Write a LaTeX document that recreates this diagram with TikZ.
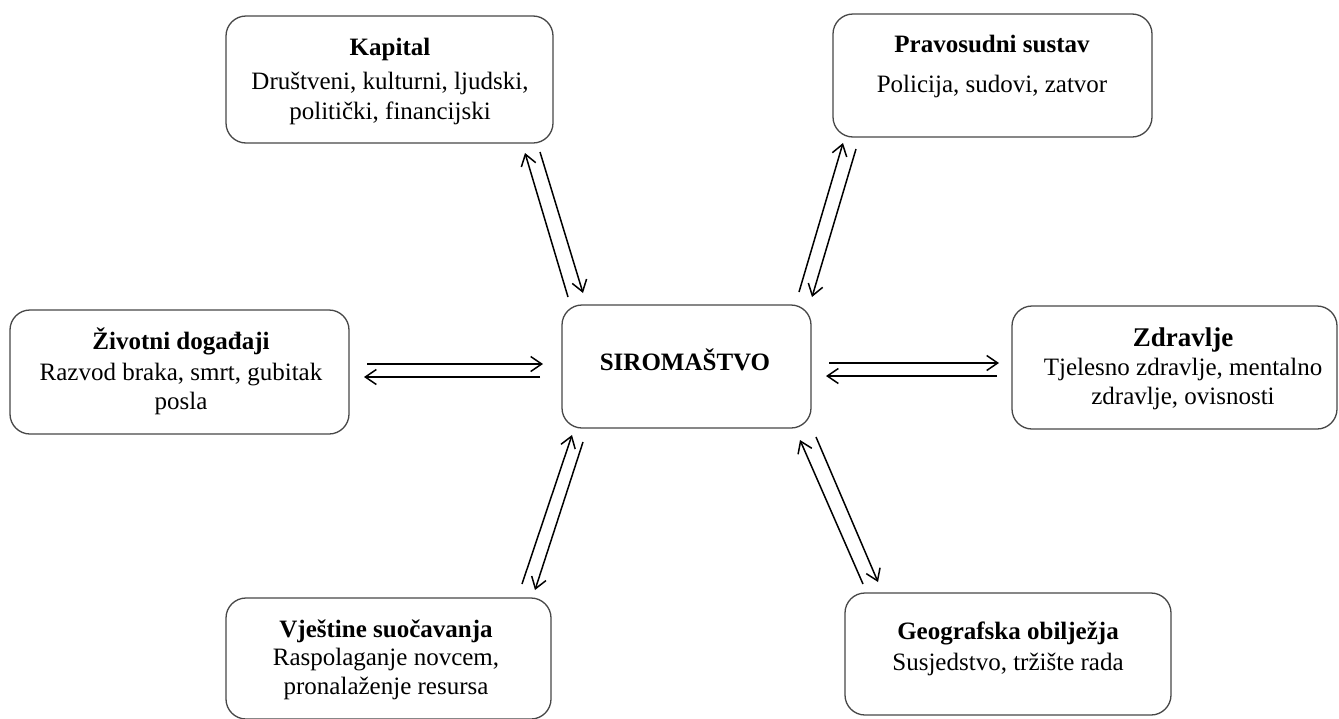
\documentclass[tikz,border=0pt]{standalone}
\usepackage{fontspec}
\setmainfont{Liberation Serif}
\usetikzlibrary{arrows.meta}
\begin{document}
\begin{tikzpicture}[x=1pt,y=-1pt,
  box/.style={draw=black!72, line width=1.3pt, rounded corners=20pt, inner sep=0pt},
  lbl/.style={anchor=base, inner sep=0pt, font=\fontsize{25}{30}\selectfont},
  ttl/.style={anchor=base, inner sep=0pt, font=\fontsize{25}{30}\selectfont\bfseries},
  bigttl/.style={anchor=base, inner sep=0pt, font=\fontsize{27}{32}\selectfont\bfseries},
  conn/.style={line width=1.5pt, -{Straight Barb[length=11pt,width=15pt]}}]
\useasboundingbox (0,0) rectangle (1339,718);
\fill[white] (0,0) rectangle (1339,718);

% boxes
\node[box, minimum width=327pt, minimum height=127pt] (kap) at (389.5,79.5) {};
\node[box, minimum width=319pt, minimum height=123pt] (prav) at (992.5,75.5) {};
\node[box, minimum width=339pt, minimum height=124pt] (ziv) at (179.5,372) {};
\node[box, minimum width=249pt, minimum height=123pt] (sir) at (686.5,366.5) {};
\node[box, minimum width=325pt, minimum height=123pt] (zdr) at (1174.5,367.5) {};
\node[box, minimum width=325pt, minimum height=121pt] (vje) at (388.5,658.5) {};
\node[box, minimum width=326pt, minimum height=122pt] (geo) at (1008,654) {};

% texts
\node[ttl] (kapT) at (390,55) {Kapital};
\node[lbl] (kap1) at (390,89) {Društveni, kulturni, ljudski,};
\node[lbl] (kap2) at (390,119) {politički, financijski};

\node[ttl] (pravT) at (992,52) {Pravosudni sustav};
\node[lbl] (prav1) at (992,92) {Policija, sudovi, zatvor};

\node[ttl] (zivT) at (181,349) {Životni događaji};
\node[lbl] (ziv1) at (181,380) {Razvod braka, smrt, gubitak};
\node[lbl] (ziv2) at (181,409) {posla};

\node[ttl] (sirT) at (685,370) {SIROMAŠTVO};

\node[bigttl] (zdrT) at (1183,346) {Zdravlje};
\node[lbl] (zdr1) at (1183,375) {Tjelesno zdravlje, mentalno};
\node[lbl] (zdr2) at (1183,404) {zdravlje, ovisnosti};

\node[ttl] (vjeT) at (386,637) {Vještine suočavanja};
\node[lbl] (vje1) at (386,665) {Raspolaganje novcem,};
\node[lbl] (vje2) at (386,694) {pronalaženje resursa};

\node[ttl] (geoT) at (1008,639) {Geografska obilježja};
\node[lbl] (geo1) at (1008,670) {Susjedstvo, tržište rada};

% connector end points
\coordinate (sirKa) at (568,297);  \coordinate (kapS) at (525,153);
\coordinate (kapSb) at (540,152);  \coordinate (sirKb) at (583,293);
\coordinate (sirPa) at (799,292);  \coordinate (pravS) at (843,143);
\coordinate (pravSb) at (856,149); \coordinate (sirPb) at (812,297);
\coordinate (vjeS) at (522,584);   \coordinate (sirVa) at (572,435);
\coordinate (sirVb) at (583,442);  \coordinate (vjeSb) at (535,590);
\coordinate (geoS) at (863,584);   \coordinate (sirGa) at (800,440);
\coordinate (sirGb) at (816,437);  \coordinate (geoSb) at (878,582);
\coordinate (zivS) at (367,364);   \coordinate (sirZa) at (543,364);
\coordinate (sirZb) at (540,377);  \coordinate (zivSb) at (364,377);
\coordinate (sirDa) at (829,363);  \coordinate (zdrS) at (999,363);
\coordinate (zdrSb) at (997,376);  \coordinate (sirDb) at (826,376);

% connectors
\draw[conn] (sirKa) -- (kapS);
\draw[conn] (kapSb) -- (sirKb);
\draw[conn] (sirPa) -- (pravS);
\draw[conn] (pravSb) -- (sirPb);
\draw[conn] (vjeS) -- (sirVa);
\draw[conn] (sirVb) -- (vjeSb);
\draw[conn] (geoS) -- (sirGa);
\draw[conn] (sirGb) -- (geoSb);
\draw[conn] (zivS) -- (sirZa);
\draw[conn] (sirZb) -- (zivSb);
\draw[conn] (sirDa) -- (zdrS);
\draw[conn] (zdrSb) -- (sirDb);
\end{tikzpicture}
\end{document}
